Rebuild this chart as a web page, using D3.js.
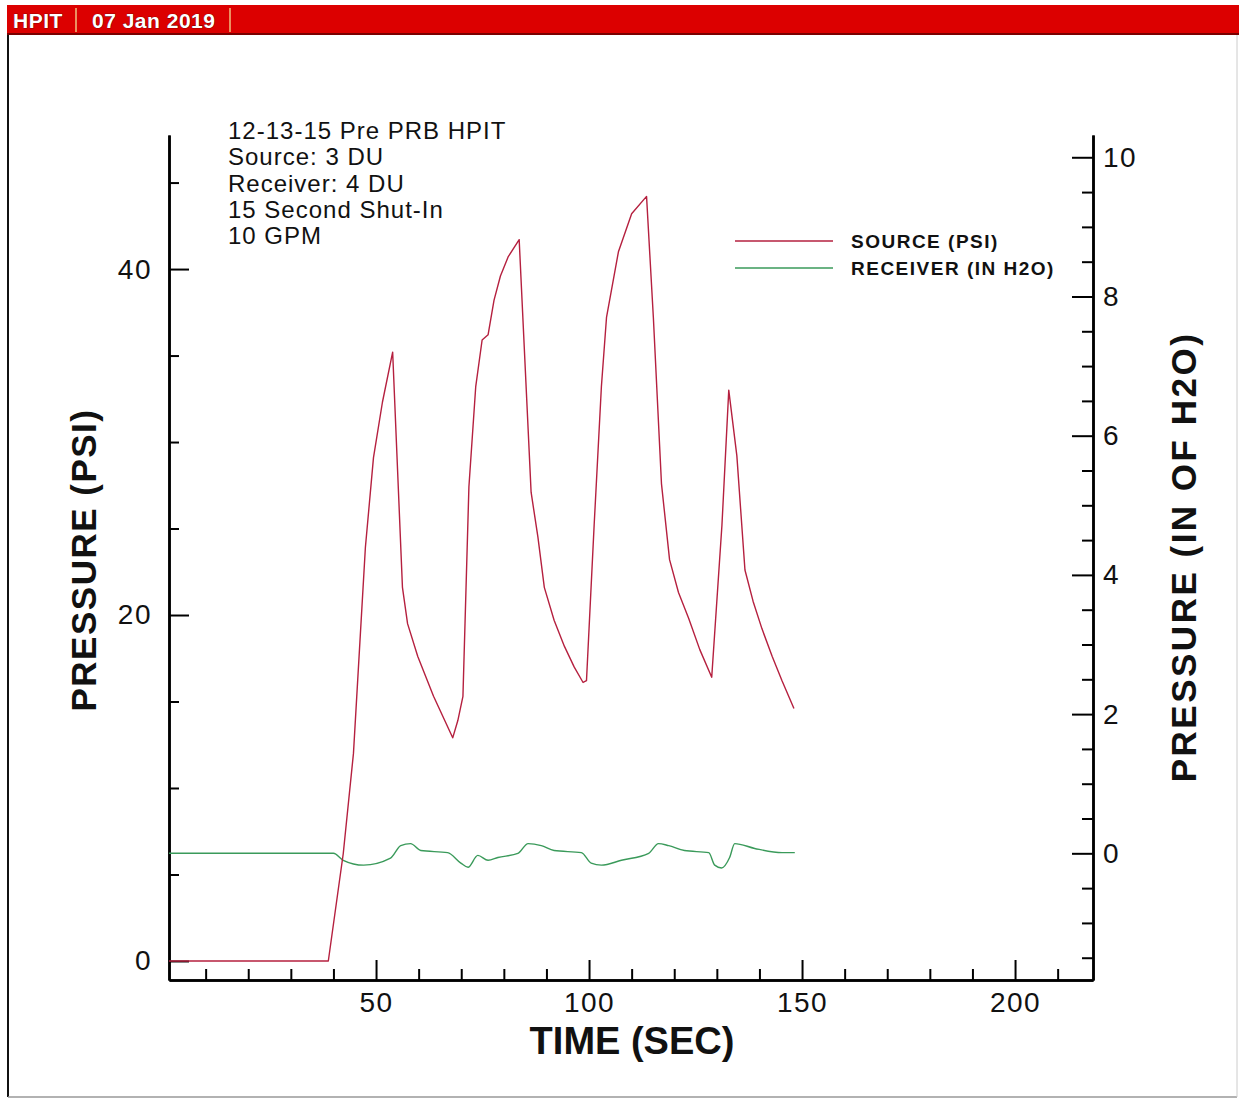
<!DOCTYPE html>
<html>
<head>
<meta charset="utf-8">
<script src="https://cdn.jsdelivr.net/npm/d3@7"></script>
<style>
  body { margin: 0; background: #fff; }
  svg { display: block; font-family: "Liberation Sans", Arial, sans-serif; }
</style>
</head>
<body>
<svg id="chart" width="1239" height="1099"></svg>
<script>
// source pressure (psi) vs time (sec)
var sourceTime = [1.4, 38.8, 42.3, 44.7, 47.5, 49.4, 51.5, 53.9,
  56.2, 57.4, 59.8, 63.5, 68.0, 69.2, 70.4,
  71.8, 73.4, 74.9, 76.3, 77.7, 79.2, 81.0, 83.6,
  86.4, 88.0, 89.5, 91.8, 94.2, 96.5, 98.6, 99.4,
  101.2, 102.9, 104.1, 106.9, 110.0, 113.5,
  115.1, 117.0, 118.9, 121.0, 123.4, 126.0, 128.8,
  131.2, 132.8, 134.7, 136.6, 138.5, 140.6, 143.0, 145.3, 148.1];
var sourcePsi = [0, 0, 6.2, 12.0, 23.9, 29.1, 32.3, 35.2,
  21.6, 19.5, 17.6, 15.3, 12.9, 13.9, 15.3,
  27.4, 33.2, 35.9, 36.2, 38.2, 39.6, 40.7, 41.7,
  27.1, 24.5, 21.6, 19.7, 18.2, 17.0, 16.1, 16.2,
  25.2, 33.2, 37.2, 41.0, 43.2, 44.2,
  37.2, 27.6, 23.2, 21.3, 19.8, 18.0, 16.4,
  25.2, 33.0, 29.2, 22.6, 20.8, 19.2, 17.6, 16.2, 14.6];

// receiver pressure (in H2O) vs time (sec)
var receiverTime = [1.4, 36.9, 40.0, 42.3, 47.1, 53.4, 55.8, 58.1, 60.5, 66.8, 69.9, 71.6, 73.9, 76.3, 78.6, 83.3, 85.7, 88.8,
  91.8, 98.2, 100.5, 102.9, 107.6, 114.0, 116.3, 118.7, 122.4, 128.1, 129.5, 131.1, 133.0, 134.2, 138.9, 145.3, 148.3];
var receiverH2O = [0, 0, 0, -0.1, -0.17, -0.07, 0.11, 0.14, 0.04, 0.01, -0.14, -0.2, -0.03, -0.1, -0.06, 0, 0.14, 0.11,
  0.04, 0.01, -0.14, -0.17, -0.1, 0, 0.14, 0.11, 0.04, 0.01, -0.17, -0.21, -0.06, 0.14, 0.07, 0.01, 0.01];

var xMajor = [50, 100, 150, 200];
var xMinor = [10, 20, 30, 40, 60, 70, 80, 90, 110, 120, 130, 140, 160, 170, 180, 190, 210];
var psiMajor = [0, 20, 40];
var psiMinor = [5, 10, 15, 25, 30, 35, 45];
var h2oMajor = [0, 2, 4, 6, 8, 10];
var h2oMinor = [-1.5, -1, -0.5, 0.5, 1, 1.5, 2.5, 3, 3.5, 4.5, 5, 5.5, 6.5, 7, 7.5, 8.5, 9, 9.5];

var notes = ["12-13-15 Pre PRB HPIT", "Source: 3 DU", "Receiver: 4 DU", "15 Second Shut-In", "10 GPM"];
var legendNames = ["SOURCE (PSI)", "RECEIVER (IN H2O)"];
var lineColors = ["#b5203f", "#3a9a5a"];

var svg = d3.select("#chart");

// header strip
svg.append("rect").attr("x", 7).attr("y", 5).attr("width", 1232).attr("height", 29).attr("fill", "#dc0000");
svg.append("line").attr("x1", 7).attr("x2", 1239).attr("y1", 34).attr("y2", 34).attr("stroke", "#7a0000").attr("stroke-width", 2);
[76, 230].forEach(function(x){
  svg.append("line").attr("x1", x).attr("x2", x).attr("y1", 8).attr("y2", 32).attr("stroke", "#f0c080").attr("stroke-width", 1.5);
});
[["HPIT", 13], ["07 Jan 2019", 92]].forEach(function(h){
  svg.append("text").attr("x", h[1]).attr("y", 28)
    .attr("font-size", 21).attr("font-weight", "bold").attr("letter-spacing", 0.5).attr("fill", "#fff")
    .attr("stroke", "#5a0000").attr("stroke-width", 0.7).attr("paint-order", "stroke")
    .text(h[0]);
});

// page frame
svg.append("line").attr("x1", 8).attr("x2", 8).attr("y1", 35).attr("y2", 1097).attr("stroke", "#111").attr("stroke-width", 2);
svg.append("line").attr("x1", 8).attr("x2", 1237).attr("y1", 1097).attr("y2", 1097).attr("stroke", "#999").attr("stroke-width", 1.5);
svg.append("line").attr("x1", 1237).attr("x2", 1237).attr("y1", 35).attr("y2", 1097).attr("stroke", "#ccc").attr("stroke-width", 1);

var x = d3.scaleLinear().domain([1.4, 218.3]).range([169, 1093]);
var yL = d3.scaleLinear().domain([-1.1, 47.75]).range([980, 135]);
var yR = d3.scaleLinear().domain([-1.82, 10.32]).range([980, 135]);

function styleAxis(g) {
  g.select(".domain").attr("stroke", "#000").attr("stroke-width", 2.5);
  g.selectAll(".tick line").attr("stroke", "#000").attr("stroke-width", 2);
  g.selectAll(".tick text").attr("fill", "#111").attr("font-size", 28).attr("letter-spacing", 1.5);
}

// bottom axis
svg.append("g").attr("transform", "translate(0,980)")
  .call(d3.axisBottom(x).tickValues(xMinor).tickSizeInner(-11).tickSizeOuter(0).tickFormat(""))
  .call(styleAxis);
svg.append("g").attr("transform", "translate(0,980)")
  .call(d3.axisBottom(x).tickValues(xMajor).tickSizeInner(-20).tickSizeOuter(0).tickPadding(12))
  .call(styleAxis);

// left axis
svg.append("g").attr("transform", "translate(169,0)")
  .call(d3.axisLeft(yL).tickValues(psiMinor).tickSizeInner(-10).tickSizeOuter(0).tickFormat(""))
  .call(styleAxis);
svg.append("g").attr("transform", "translate(169,0)")
  .call(d3.axisLeft(yL).tickValues(psiMajor).tickSizeInner(-20).tickSizeOuter(0).tickPadding(17))
  .call(styleAxis);

// right axis
svg.append("g").attr("transform", "translate(1093,0)")
  .call(d3.axisRight(yR).tickValues(h2oMinor).tickSizeInner(-11).tickSizeOuter(0).tickFormat(""))
  .call(styleAxis);
svg.append("g").attr("transform", "translate(1093,0)")
  .call(d3.axisRight(yR).tickValues(h2oMajor).tickSizeInner(-21).tickSizeOuter(0).tickPadding(10))
  .call(styleAxis);

// series
var sourceLine = d3.line().x(function(d){ return x(d[0]); }).y(function(d){ return yL(d[1]); });
var receiverLine = d3.line().x(function(d){ return x(d[0]); }).y(function(d){ return yR(d[1]); }).curve(d3.curveMonotoneX);

svg.append("path").datum(d3.zip(receiverTime, receiverH2O))
  .attr("d", receiverLine).attr("fill", "none").attr("stroke", lineColors[1]).attr("stroke-width", 1.4);
svg.append("path").datum(d3.zip(sourceTime, sourcePsi))
  .attr("d", sourceLine).attr("fill", "none").attr("stroke", lineColors[0]).attr("stroke-width", 1.4)
  .attr("stroke-linejoin", "round");

// axis titles
svg.append("text").attr("x", 632).attr("y", 1054).attr("text-anchor", "middle")
  .attr("font-size", 38).attr("font-weight", "bold").attr("fill", "#111").text("TIME (SEC)");
svg.append("text").attr("transform", "translate(96,560) rotate(-90)").attr("text-anchor", "middle")
  .attr("font-size", 35).attr("font-weight", "bold").attr("letter-spacing", 1.5).attr("fill", "#111").text("PRESSURE (PSI)");
svg.append("text").attr("transform", "translate(1196,557) rotate(-90)").attr("text-anchor", "middle")
  .attr("font-size", 35).attr("font-weight", "bold").attr("letter-spacing", 2.5).attr("fill", "#111").text("PRESSURE (IN OF H2O)");

// annotation block
svg.append("g").selectAll("text").data(notes).join("text")
  .attr("x", 228).attr("y", function(d, i){ return 139 + i * 26.3; })
  .attr("font-size", 24).attr("letter-spacing", 1).attr("fill", "#111")
  .text(function(d){ return d; });

// legend
var leg = svg.append("g").selectAll("g").data(legendNames).join("g")
  .attr("transform", function(d, i){ return "translate(735," + (241 + i * 27) + ")"; });
leg.append("line").attr("x1", 0).attr("x2", 98).attr("y1", 0).attr("y2", 0)
  .attr("stroke", function(d, i){ return lineColors[i]; }).attr("stroke-width", 1.4);
leg.append("text").attr("x", 116).attr("y", 7).attr("font-size", 19).attr("font-weight", "bold")
  .attr("letter-spacing", 1.5).attr("fill", "#111").text(function(d){ return d; });
</script>
</body>
</html>
